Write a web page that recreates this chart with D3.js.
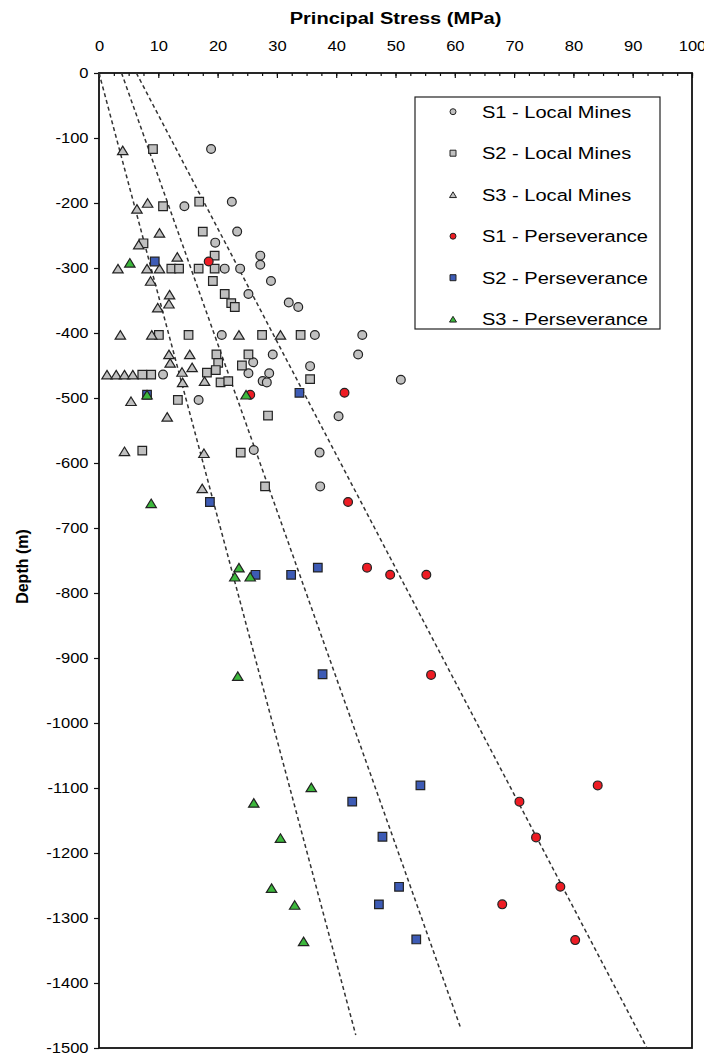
<!DOCTYPE html>
<html>
<head>
<meta charset="utf-8">
<script src="https://cdn.jsdelivr.net/npm/d3@7"></script>
<style>
  html, body { margin: 0; padding: 0; background: #fff; }
  svg { display: block; font-family: Arial, "Liberation Sans", sans-serif; }
  .axis text { font-size: 14px; fill: #000; }
  .axis line { stroke: #111; stroke-width: 1.2; }
  .axis path { display: none; }
  .trend { fill: none; stroke: #333; stroke-width: 1.5; stroke-dasharray: 4,3; }
  .legend-label { font-size: 17px; fill: #000; }
</style>
</head>
<body>
<div id="chart"></div>
<script>
// [stress MPa, depth m] pairs
const S1_LOCAL = [
  [18.9, -117], [14.4, -205], [22.4, -198], [23.3, -244], [19.6, -261],
  [27.2, -281], [27.2, -295], [21.2, -301], [23.8, -301], [29.0, -320],
  [25.2, -340], [32.0, -353], [33.6, -360], [20.7, -403], [36.4, -403],
  [44.4, -403], [29.3, -433], [43.7, -433], [26.0, -445], [35.6, -451],
  [10.8, -464], [25.2, -462], [28.7, -462], [27.6, -474], [28.3, -476],
  [50.9, -472], [16.8, -503], [40.4, -528], [26.1, -580], [37.2, -584],
  [37.3, -636]
];
const S2_LOCAL = [
  [9.1, -117], [10.8, -205], [16.9, -198], [17.5, -244], [7.5, -262],
  [19.5, -281], [12.2, -301], [13.5, -301], [16.8, -301], [19.5, -301],
  [19.2, -320], [21.2, -340], [22.3, -354], [22.9, -360], [10.1, -403],
  [15.1, -403], [27.5, -403], [34.0, -403], [19.8, -433], [25.2, -433],
  [20.1, -446], [24.1, -450], [7.3, -464], [8.8, -464], [18.2, -461],
  [19.7, -457], [35.6, -471], [20.5, -476], [21.8, -474], [13.3, -503],
  [28.5, -527], [7.3, -581], [23.9, -584], [28.0, -636]
];
const S3_LOCAL = [
  [4.0, -119], [6.4, -209], [8.2, -200], [10.2, -246], [6.7, -264],
  [13.2, -283], [3.2, -301], [8.1, -301], [10.2, -301], [8.7, -320],
  [11.9, -341], [11.8, -355], [9.9, -361], [3.6, -403], [8.9, -403],
  [23.6, -403], [30.6, -403], [11.8, -433], [15.3, -433], [12.0, -446],
  [15.7, -453], [1.35, -464], [2.9, -464], [4.3, -464], [5.7, -464],
  [14.0, -460], [14.1, -476], [17.8, -474], [5.4, -505], [11.5, -529],
  [4.3, -582], [17.7, -585], [17.4, -639]
];
const S1_PERSEV = [
  [18.5, -290], [25.5, -495], [41.4, -492], [42.0, -660], [45.2, -761],
  [49.1, -772], [55.2, -772], [56.0, -926], [84.1, -1096], [70.9, -1121],
  [73.7, -1176], [77.8, -1252], [68.0, -1279], [80.3, -1334]
];
const S2_PERSEV = [
  [9.4, -290], [8.1, -495], [33.8, -492], [18.7, -660], [26.4, -772],
  [32.4, -772], [36.9, -761], [37.7, -925], [54.2, -1096], [42.7, -1121],
  [47.8, -1175], [50.6, -1252], [47.2, -1279], [53.5, -1333]
];
const S3_PERSEV = [
  [5.2, -292], [8.1, -495], [24.8, -495], [8.8, -662], [23.6, -761],
  [22.9, -775], [25.5, -775], [23.4, -928], [35.8, -1099], [26.1, -1123],
  [30.6, -1177], [29.1, -1254], [33.0, -1280], [34.5, -1336]
];

// dashed trend lines (end points)
const TREND_S3 = [[0, 0], [43.3, -1480]];
const TREND_S2 = [[3.8, 0], [60.9, -1467]];
const TREND_S1 = [[6.3, 0], [92.4, -1500]];

const X_TICKS = d3.range(0, 101, 10);
const X_MINOR = d3.range(0, 100.1, 2.5);
const Y_TICKS = d3.range(0, -1501, -100);

const SERIES = [
  { label: "S1 - Local Mines", data: S1_LOCAL, shape: "circle", fill: "#c0c0c0" },
  { label: "S2 - Local Mines", data: S2_LOCAL, shape: "square", fill: "#c0c0c0" },
  { label: "S3 - Local Mines", data: S3_LOCAL, shape: "triangle", fill: "#c0c0c0" },
  { label: "S1 - Perseverance", data: S1_PERSEV, shape: "circle", fill: "#ee1c24" },
  { label: "S2 - Perseverance", data: S2_PERSEV, shape: "square", fill: "#3d5bb5" },
  { label: "S3 - Perseverance", data: S3_PERSEV, shape: "triangle", fill: "#3cb83c" }
];

const TEXT_STRETCH = 1.18; // source text is a bit wide

(function () {
  const W = 704, H = 1059;
  const margin = { top: 73, right: 12, bottom: 11, left: 99 };
  const width = W - margin.left - margin.right;
  const height = H - margin.top - margin.bottom;

  const svg = d3.select("#chart").append("svg")
    .attr("width", W).attr("height", H);
  svg.append("rect").attr("width", W).attr("height", H).attr("fill", "#fff");

  const g = svg.append("g")
    .attr("transform", `translate(${margin.left},${margin.top})`);

  const x = d3.scaleLinear().domain([0, 100]).range([0, width]);
  const y = d3.scaleLinear().domain([0, -1500]).range([0, height]);

  // ---------- axes ----------
  g.append("g").attr("class", "axis")
    .call(d3.axisTop(x).tickValues(X_MINOR).tickSize(-3).tickFormat(""));

  const xAxis = g.append("g").attr("class", "axis")
    .call(d3.axisTop(x).tickValues(X_TICKS).tickSize(-5).tickPadding(0)
      .tickFormat((d) => String(d)));
  xAxis.selectAll("text")
    .attr("y", -22)
    .attr("transform", `scale(${TEXT_STRETCH},1)`)
    .attr("x", 0);

  const yAxis = g.append("g").attr("class", "axis")
    .call(d3.axisLeft(y).tickValues(Y_TICKS).tickSize(5)
      .tickFormat((d) => String(d)));
  yAxis.selectAll("text")
    .attr("x", -10.5 / TEXT_STRETCH)
    .attr("transform", `scale(${TEXT_STRETCH},1)`);

  // frame
  g.append("rect")
    .attr("width", width).attr("height", height)
    .attr("fill", "none").attr("stroke", "#111").attr("stroke-width", 1.8);

  // titles
  svg.append("text")
    .attr("transform", `translate(${margin.left + width / 2},24) scale(${TEXT_STRETCH},1)`)
    .attr("text-anchor", "middle")
    .attr("font-size", 17).attr("font-weight", "bold").attr("fill", "#000")
    .text("Principal Stress (MPa)");

  svg.append("text")
    .attr("transform", `translate(28,${margin.top + height / 2 + 6}) rotate(-90)`)
    .attr("text-anchor", "middle")
    .attr("font-size", 16).attr("font-weight", "bold").attr("fill", "#000")
    .text("Depth (m)");

  // ---------- trend lines ----------
  const line = d3.line().x((d) => x(d[0])).y((d) => y(d[1]));
  [TREND_S3, TREND_S2, TREND_S1].forEach((t) => {
    g.append("path").attr("class", "trend").attr("d", line(t));
  });

  // ---------- markers ----------
  function markerPath(shape, s) {
    if (shape === "circle") return d3.symbol(d3.symbolCircle, Math.PI * s * s / 4)();
    if (shape === "square") return d3.symbol(d3.symbolSquare, s * s)();
    // triangle, base s wide, sitting around its centre
    const h = s * 0.82;
    return `M0,${-h / 2}L${s / 2},${h / 2}L${-s / 2},${h / 2}Z`;
  }
  const SIZE = { circle: 8.8, square: 8.6, triangle: 10.4 };

  SERIES.forEach((ser) => {
    g.append("g").selectAll("path")
      .data(ser.data)
      .join("path")
      .attr("d", markerPath(ser.shape, SIZE[ser.shape]))
      .attr("transform", (d) => `translate(${x(d[0])},${y(d[1])})`)
      .attr("fill", ser.fill)
      .attr("stroke", "#222")
      .attr("stroke-width", 1.2);
  });

  // ---------- legend ----------
  const legend = svg.append("g").attr("transform", "translate(415,97)");
  legend.append("rect")
    .attr("width", 245).attr("height", 232)
    .attr("fill", "#fff").attr("stroke", "#222").attr("stroke-width", 1.2);

  const LEG_SIZE = { circle: 6, square: 6, triangle: 7 };
  const item = legend.selectAll(".legend-item")
    .data(SERIES)
    .join("g")
    .attr("class", "legend-item")
    .attr("transform", (d, i) => `translate(0,${14.7 + i * 41.5})`);

  item.append("path")
    .attr("d", (d) => markerPath(d.shape, LEG_SIZE[d.shape]))
    .attr("transform", "translate(38,0)")
    .attr("fill", (d) => d.fill)
    .attr("stroke", "#222")
    .attr("stroke-width", 1);

  item.append("text")
    .attr("class", "legend-label")
    .attr("transform", `translate(67,6) scale(${TEXT_STRETCH},1)`)
    .text((d) => d.label);
})();
</script>
</body>
</html>
